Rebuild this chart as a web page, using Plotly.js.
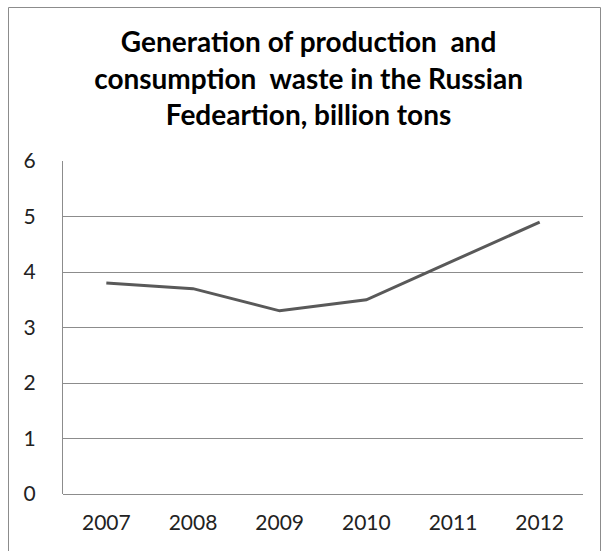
<!DOCTYPE html>
<html>
<head>
<meta charset="utf-8">
<script src="https://cdn.plot.ly/plotly-3.0.1.min.js"></script>
<style>
html,body{margin:0;padding:0;background:#fff;}
#chart{width:605px;height:551px;}
</style>
</head>
<body>
<div id="chart"></div>
<script>
var years = ['2007', '2008', '2009', '2010', '2011', '2012'];
var waste = [3.8, 3.7, 3.3, 3.5, 4.2, 4.9];
var yTicks = [0, 1, 2, 3, 4, 5, 6];
var titleText = 'Generation of production  and<br>consumption  waste in the Russian<br>Fedeartion, billion tons';

var trace = {
  x: years,
  y: waste,
  type: 'scatter',
  mode: 'lines',
  line: {color: '#595959', width: 3},
  hoverinfo: 'x+y'
};

var pw = 520, ph = 333, ml = 63, mt = 161;
function px(x){ return (x - ml) / pw; }
function py(y){ return (mt + ph - y) / ph; }

var layout = {
  width: 605,
  height: 551,
  margin: {l: ml, r: 605 - ml - pw, t: mt, b: 551 - mt - ph},
  paper_bgcolor: '#ffffff',
  plot_bgcolor: '#ffffff',
  showlegend: false,
  font: {family: 'Lato, "Open Sans", sans-serif', color: '#222222'},
  title: {
    text: titleText,
    font: {family: 'Lato, "Open Sans", sans-serif', size: 28, color: '#000000', weight: 'bold'},
    x: 0.51, xref: 'container', xanchor: 'center',
    y: 0.905, yref: 'container', yanchor: 'top'
  },
  xaxis: {
    type: 'category',
    range: [-0.5, 5.5],
    tickvals: years,
    ticktext: years,
    showgrid: false,
    showline: false,
    zeroline: false,
    ticks: '',
    tickfont: {size: 21, color: '#222222'},
    ticklabelstandoff: 14
  },
  yaxis: {
    range: [0, 6],
    tickvals: yTicks,
    ticktext: yTicks.map(String),
    showgrid: true,
    gridcolor: '#8c8c8c',
    gridwidth: 1,
    showline: true,
    linecolor: '#8c8c8c',
    linewidth: 1,
    zeroline: true,
    zerolinecolor: '#8c8c8c',
    zerolinewidth: 1,
    ticks: '',
    tickfont: {size: 21, color: '#222222'},
    ticklabelstandoff: 22
  },
  shapes: [{
    type: 'rect', xref: 'paper', yref: 'paper',
    x0: px(8.5), x1: px(600.5), y0: py(560), y1: py(7.5),
    line: {color: '#8c8c8c', width: 1},
    fillcolor: 'rgba(0,0,0,0)',
    layer: 'below'
  }]
};

Plotly.newPlot('chart', [trace], layout, {displayModeBar: false, staticPlot: true});
</script>
</body>
</html>
